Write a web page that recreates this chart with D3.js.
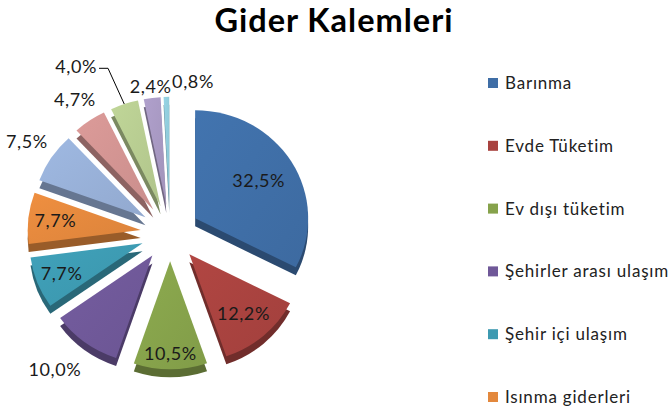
<!DOCTYPE html>
<html>
<head>
<meta charset="utf-8">
<script src="https://cdn.jsdelivr.net/npm/d3@7"></script>
<style>
  html, body { margin: 0; padding: 0; background: #fff; }
  svg { display: block; font-family: Lato, "Open Sans", sans-serif; }
</style>
</head>
<body>
<svg id="chart" width="672" height="410"></svg>
<script>
// values as shown on the slices (percent)
const values = [32.5, 12.2, 10.5, 10.0, 7.7, 7.7, 7.5, 4.7, 4.0, 2.4, 0.8];
// only these six fit in the legend box
const legendLabels = ["Barınma", "Evde Tüketim", "Ev dışı tüketim", "Şehirler arası ulaşım", "Şehir içi ulaşım", "Isınma giderleri"];
const colors = ["#3F6EA6", "#A8423F", "#86A24B", "#6F5898", "#3D9AB1", "#E3883D",
                "#97AFD6", "#D19391", "#B6CB90", "#A798C1", "#8FCADA"];

const svg = d3.select("#chart");

// pie geometry
const cx = 170, cy = 233, rx = 113, ry = 108, explode = 29.5, depth = 8;
const k = ry / rx;

// label placement (fraction of radius, measured from exploded apex)
const labelFrac = { 0: 0.66, 1: 0.73, 2: 0.86, 3: 1.37, 4: 0.77, 5: 0.76, 6: 1.26, 7: 1.23, 9: 1.1, 10: 1.14 };
const labelNudge = { 3: [-5, -4], 10: [27, 0] };
const leaderIdx = 8;

const locale = d3.formatLocale({ decimal: ",", thousands: ".", grouping: [3], currency: ["", ""] });
const fmtPct = v => locale.format(".1f")(v) + "%";

const pie = d3.pie().sort(null).value(d => d)(values);
const arc = d3.arc().innerRadius(0).outerRadius(rx);

const mid = d => (d.startAngle + d.endAngle) / 2;
const offX = d => explode * Math.sin(mid(d));
const offY = d => -explode * Math.cos(mid(d));

// title
svg.append("text")
  .attr("x", 334).attr("y", 32)
  .attr("text-anchor", "middle")
  .attr("font-size", 32.5)
  .attr("font-weight", "bold")
  .attr("letter-spacing", 1)
  .attr("fill", "#000")
  .text("Gider Kalemleri");

const g = svg.append("g")
  .attr("transform", `translate(${cx},${cy}) scale(1,${k})`);

// sides (extruded copy, darker, drawn first)
g.append("g").selectAll("path")
  .data(pie)
  .enter()
  .append("path")
  .attr("d", arc)
  .attr("transform", d => `translate(${offX(d)},${offY(d) + depth / k})`)
  .attr("fill", (d, i) => d3.color(colors[i]).darker(1.1));

// gradients for top faces
const defs = svg.append("defs");
colors.forEach((c, i) => {
  const gr = defs.append("linearGradient")
    .attr("id", "grad" + i)
    .attr("x1", "0").attr("y1", "0").attr("x2", "1").attr("y2", "1");
  gr.append("stop").attr("offset", "0%").attr("stop-color", d3.color(c).brighter(0.15));
  gr.append("stop").attr("offset", "100%").attr("stop-color", d3.color(c).darker(0.1));
});

// top faces
g.append("g").selectAll("path")
  .data(pie)
  .enter()
  .append("path")
  .attr("d", arc)
  .attr("transform", d => `translate(${offX(d)},${offY(d)})`)
  .attr("fill", (d, i) => `url(#grad${i})`);

// data labels
const labels = svg.append("g")
  .attr("font-size", 18)
  .attr("letter-spacing", 0.6)
  .attr("fill", "#1a1a1a");

pie.forEach((d, i) => {
  const m = mid(d);
  if (i === leaderIdx) {
    const ox = cx + (explode + rx) * Math.sin(m);
    const oy = cy - (explode + rx) * Math.cos(m) * k;
    const ex = cx + (explode + 1.31 * rx) * Math.sin(m) - 5;
    const ey = cy - (explode + 1.31 * rx) * Math.cos(m) * k - 4;
    svg.append("path")
      .attr("d", `M${ox},${oy}L${ex},${ey}L${ex - 9},${ey}`)
      .attr("fill", "none")
      .attr("stroke", "#000")
      .attr("stroke-width", 1);
    labels.append("text")
      .attr("x", ex - 11).attr("y", ey - 2)
      .attr("dy", "0.35em")
      .attr("text-anchor", "end")
      .text(fmtPct(d.data));
    return;
  }
  const f = labelFrac[i];
  const n = labelNudge[i] || [0, 0];
  const r = explode + f * rx;
  labels.append("text")
    .attr("x", cx + r * Math.sin(m) + n[0])
    .attr("y", cy - r * Math.cos(m) * k + n[1])
    .attr("dy", "0.35em")
    .attr("text-anchor", "middle")
    .text(fmtPct(d.data));
});

// legend
const ly = d3.scalePoint().domain(legendLabels).range([83, 397]);
const legend = svg.append("g").selectAll("g")
  .data(legendLabels)
  .enter()
  .append("g")
  .attr("transform", d => `translate(488,${ly(d)})`);

legend.append("rect")
  .attr("x", 0).attr("y", -5)
  .attr("width", 10).attr("height", 10)
  .attr("fill", (d, i) => colors[i]);

legend.append("text")
  .attr("x", 17).attr("y", 0)
  .attr("dy", "0.35em")
  .attr("font-size", 17)
  .attr("letter-spacing", 0.8)
  .attr("fill", "#222")
  .text(d => d);
</script>
</body>
</html>
